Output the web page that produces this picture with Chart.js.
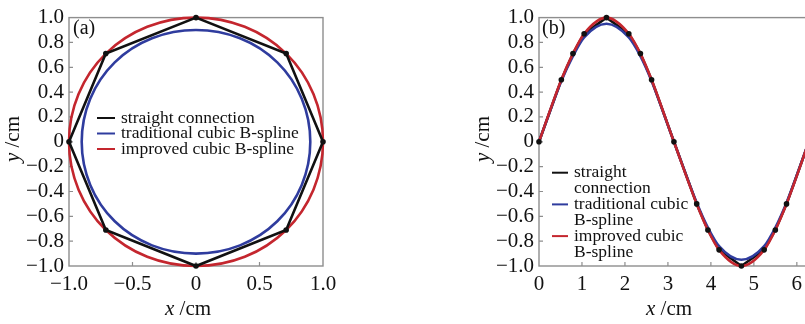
<!DOCTYPE html>
<html><head><meta charset="utf-8">
<script src="https://cdn.jsdelivr.net/npm/chart.js@4"></script>
<style>
html,body{margin:0;padding:0;background:#fff;overflow:hidden}
#wrap{position:relative;width:805px;height:324px;overflow:hidden;background:#fff}
canvas{position:absolute;top:0}
#a{left:0}
#b{left:470px}
</style></head><body>
<div id="wrap"><canvas id="a" width="360" height="324"></canvas><canvas id="b" width="360" height="324"></canvas></div>
<script>
// ---------- data: panel (a) ----------
const octX  = [1, 0.71, 0, -0.71, -1, -0.71, 0, 0.71];      // straight connection vertices
const octY  = [0, 0.71, 1, 0.71, 0, -0.71, -1, -0.71];
const tradX = [0.9, 0.64, 0, -0.64, -0.9, -0.64, 0, 0.64];  // traditional cubic B-spline nodes
const tradY = [0, 0.64, 0.9, 0.64, 0, -0.64, -0.9, -0.64];
const impX  = [1, 0.71, 0, -0.71, -1, -0.71, 0, 0.71];      // improved cubic B-spline nodes
const impY  = [0, 0.71, 1, 0.71, 0, -0.71, -1, -0.71];
// ---------- data: panel (b) ----------
const sineX     = [0, 0.52, 0.79, 1.05, 1.57, 2.09, 2.36, 2.62, 3.14, 3.67, 3.93, 4.19, 4.71, 5.24, 5.50, 5.76, 6.28];
const straightY = [0, 0.5, 0.71, 0.87, 1, 0.87, 0.71, 0.5, 0, -0.5, -0.71, -0.87, -1, -0.87, -0.71, -0.5, 0];
const tradSineY = [0, 0.49, 0.69, 0.84, 0.95, 0.84, 0.69, 0.49, 0, -0.49, -0.69, -0.84, -0.95, -0.84, -0.69, -0.49, 0];
const impSineY  = [0, 0.5, 0.71, 0.87, 1, 0.87, 0.71, 0.5, 0, -0.5, -0.71, -0.87, -1, -0.87, -0.71, -0.5, 0];
// ---------- labels ----------
const seriesNames = ['straight connection', 'traditional cubic B-spline', 'improved cubic B-spline'];
const seriesNamesB = [['straight', 'connection'], ['traditional cubic', 'B-spline'], ['improved cubic', 'B-spline']];
const yTickLabels = ['\u22121.0', '\u22120.8', '\u22120.6', '\u22120.4', '\u22120.2', '0', '0.2', '0.4', '0.6', '0.8', '1.0'];
const xTickLabelsA = ['\u22121.0', '\u22120.5', '0', '0.5', '1.0'];
const xTickLabelsB = ['0', '1', '2', '3', '4', '5', '6'];

const BLACK = '#111111', BLUE = '#2f3c9e', RED = '#c4262e', GRAY = '#8e8e8e';
const SERIF = "'Liberation Serif', 'Times New Roman', serif";
Chart.defaults.font.family = SERIF;
Chart.defaults.color = '#111';

function pts(xs, ys) { return xs.map((x, i) => ({x: x, y: ys[i]})); }
function closed(xs, ys) { const p = pts(xs, ys); p.push({x: xs[0], y: ys[0]}); return p; }
function wrapped(xs, ys) { // loop with one extra node on each side so the spline is smooth at the seam
  const n = xs.length, p = [];
  for (let k = -1; k <= n + 1; k++) { const i = ((k % n) + n) % n; p.push({x: xs[i], y: ys[i]}); }
  return p;
}
function loopDataset(xs, ys, color) {
  const last = xs.length + 2;
  return {
    data: wrapped(xs, ys), showLine: true, borderColor: color, borderWidth: 2.6,
    tension: 0.375, pointRadius: 0, clip: false,
    segment: { borderColor: c => (c.p0DataIndex === 0 || c.p1DataIndex === last) ? 'rgba(0,0,0,0)' : color }
  };
}

function drawMixed(ctx, parts, cx, base, size) {
  let total = 0;
  parts.forEach(p => { ctx.font = (p.it ? 'italic ' : '') + size + 'px ' + SERIF; p.w = ctx.measureText(p.t).width; total += p.w; });
  let x = cx - total / 2;
  ctx.textAlign = 'left'; ctx.textBaseline = 'alphabetic'; ctx.fillStyle = '#111';
  parts.forEach(p => { ctx.font = (p.it ? 'italic ' : '') + size + 'px ' + SERIF; ctx.fillText(p.t, x, base); x += p.w; });
}

const decor = {
  id: 'decor',
  beforeDatasetsDraw(chart, args, o) {
    const {ctx, chartArea: a} = chart;
    const xs = chart.scales.x, ys = chart.scales.y;
    ctx.save();
    ctx.strokeStyle = GRAY; ctx.lineWidth = 1.4;
    ctx.strokeRect(a.left, a.top, a.right - a.left, a.bottom - a.top);
    ctx.lineWidth = 1.2;
    ctx.beginPath();
    xs.ticks.forEach(t => { const px = xs.getPixelForValue(t.value); if (px > a.left + 1 && px < a.right - 1) { ctx.moveTo(px, a.bottom); ctx.lineTo(px, a.bottom - 4); } });
    ys.ticks.forEach(t => { const py = ys.getPixelForValue(t.value); if (py > a.top + 1 && py < a.bottom - 1) { ctx.moveTo(a.left, py); ctx.lineTo(a.left + 4, py); } });
    ctx.stroke();
    ctx.restore();
  },
  afterDraw(chart, args, o) {
    const {ctx} = chart;
    ctx.save();
    // panel label
    ctx.font = '20px ' + SERIF; ctx.fillStyle = '#111'; ctx.textAlign = 'left'; ctx.textBaseline = 'alphabetic';
    ctx.fillText(o.panel, o.panelX, 33.5);
    // legend
    const colors = [BLACK, BLUE, RED];
    o.legend.forEach((it, i) => {
      ctx.strokeStyle = colors[i]; ctx.lineWidth = 2;
      ctx.beginPath(); ctx.moveTo(o.lx0, it.y); ctx.lineTo(o.lx1, it.y); ctx.stroke();
      ctx.font = '17.5px ' + SERIF; ctx.fillStyle = '#111';
      it.lines.forEach((t, j) => ctx.fillText(t, o.tx, it.y + 4.5 + j * o.lh));
    });
    // axis titles
    drawMixed(ctx, [{t: 'x', it: true}, {t: ' /cm'}], o.xtc, 315, 21);
    ctx.translate(19, 139); ctx.rotate(-Math.PI / 2);
    drawMixed(ctx, [{t: 'y', it: true}, {t: ' /cm'}], 0, 0, 21);
    ctx.restore();
  }
};

function scales(xmin, xmax, xstep, xlabels) {
  return {
    x: { type: 'linear', min: xmin, max: xmax,
      ticks: { stepSize: xstep, includeBounds: false, padding: 6, autoSkip: false, maxRotation: 0, font: {size: 21}, color: '#111', callback: (v, i) => xlabels[i] },
      grid: { display: false, drawTicks: false }, border: { display: false },
      afterFit: s => { s.height = 58; } },
    y: { type: 'linear', min: -1, max: 1,
      ticks: { stepSize: 0.2, padding: 5, autoSkip: false, font: {size: 21}, color: '#111', callback: (v, i) => yTickLabels[i] },
      grid: { display: false, drawTicks: false }, border: { display: false },
      afterFit: s => { s.width = 69; } }
  };
}

new Chart(document.getElementById('a'), {
  type: 'scatter',
  data: { datasets: [
    { data: pts(octX, octY), pointRadius: 2.8, pointBackgroundColor: BLACK, pointBorderWidth: 0, showLine: false, clip: false },
    { data: closed(octX, octY), showLine: true, borderColor: BLACK, borderWidth: 2.6, pointRadius: 0, tension: 0, clip: false },
    loopDataset(impX, impY, RED),
    loopDataset(tradX, tradY, BLUE)
  ]},
  options: {
    responsive: false, animation: false, devicePixelRatio: 1,
    layout: { padding: { top: 12, right: 37, left: 0, bottom: 0 } },
    elements: { line: { capBezierPoints: false } },
    plugins: { legend: { display: false }, tooltip: { enabled: false },
      decor: { panel: '(a)', panelX: 73, lx0: 97, lx1: 115, tx: 121, lh: 16, xtc: 188,
        legend: seriesNames.map((n, i) => ({ lines: [n], y: 118 + i * 15.5 })) } },
    scales: scales(-1, 1, 0.5, xTickLabelsA)
  },
  plugins: [decor]
});

new Chart(document.getElementById('b'), {
  type: 'scatter',
  data: { datasets: [
    { data: pts(sineX, straightY), pointRadius: 2.8, pointBackgroundColor: BLACK, pointBorderWidth: 0, showLine: false, clip: false },
    { data: pts(sineX, impSineY), showLine: true, borderColor: RED, borderWidth: 2.6, pointRadius: 0, cubicInterpolationMode: 'monotone', clip: false },
    { data: pts(sineX, tradSineY), showLine: true, borderColor: BLUE, borderWidth: 2.6, pointRadius: 0, cubicInterpolationMode: 'monotone', clip: false },
    { data: pts(sineX, straightY), showLine: true, borderColor: BLACK, borderWidth: 2.6, pointRadius: 0, tension: 0, clip: false }
  ]},
  options: {
    responsive: false, animation: false, devicePixelRatio: 1,
    layout: { padding: { top: 12, right: 21, left: 0, bottom: 0 } },
    elements: { line: { capBezierPoints: false } },
    plugins: { legend: { display: false }, tooltip: { enabled: false },
      decor: { panel: '(b)', panelX: 72, lx0: 82, lx1: 98, tx: 104, lh: 16, xtc: 199,
        legend: seriesNamesB.map((n, i) => ({ lines: n, y: 172.7 + i * 31.7 })) } },
    scales: scales(0, 6.283, 1, xTickLabelsB)
  },
  plugins: [decor]
});
</script>
</body></html>
